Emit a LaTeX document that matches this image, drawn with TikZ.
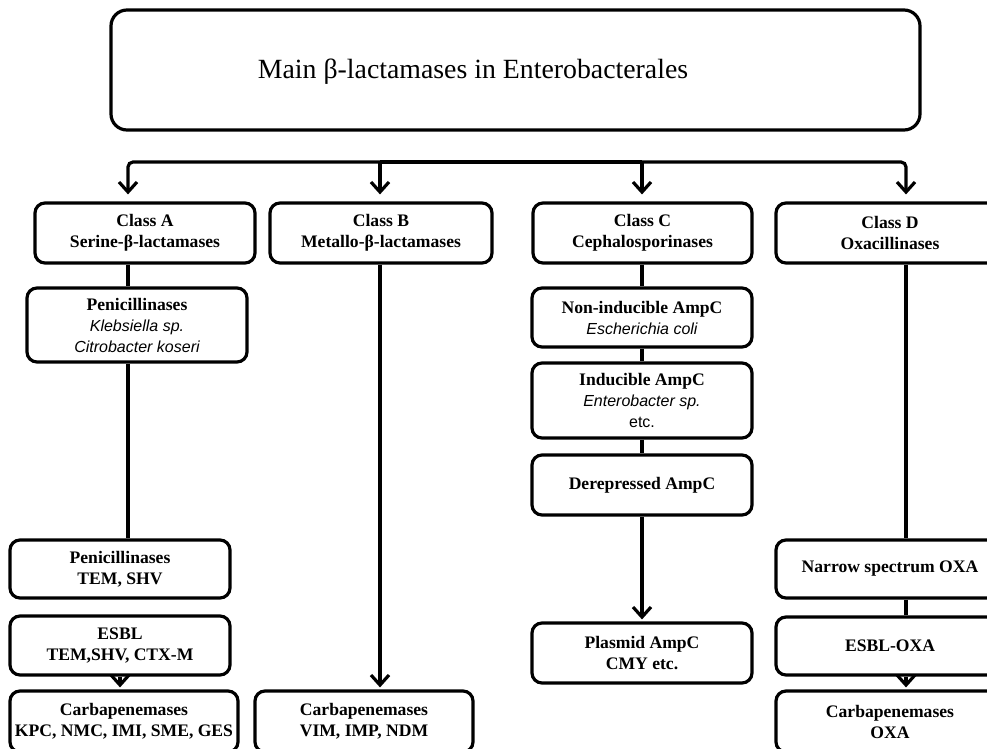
\documentclass[tikz,border=0pt]{standalone}
\usepackage{fontspec}
\setmainfont{Liberation Serif}
\newfontfamily\spfont{Liberation Sans}
\usetikzlibrary{arrows.meta}
\newcommand{\species}[1]{{\spfont\mdseries\itshape\fontsize{16}{21}\selectfont #1}}
\newcommand{\etcnote}{{\spfont\mdseries\fontsize{16}{21}\selectfont etc.}}
\tikzset{
  box/.style={draw, line width=3.2pt, rounded corners=10pt, align=center, inner sep=0pt,
    font=\bfseries\fontsize{17.6}{21}\selectfont},
  line/.style={line width=3.2pt},
  arr/.style={line width=3.2pt, -{Straight Barb[length=10pt,width=18pt]}, shorten >=2pt},
  toparr/.style={arr, shorten >=7pt}
}

\begin{document}
\begin{tikzpicture}[x=1pt, y=-1pt]
\useasboundingbox (0,0) rectangle (987,748);
\clip (0,0) rectangle (987,748);

% title
\node[box, rounded corners=16pt, minimum width=809pt, minimum height=120pt] (title) at (515.5,70) {};
\node[font=\fontsize{27.8}{32}\selectfont] (titletxt) at (473,72) {Main β-lactamases in Enterobacterales};

% columns
\coordinate (bus) at (0,162);
\coordinate (colA) at (128,0);
\coordinate (colAb) at (120,0);
\coordinate (colB) at (380,0);
\coordinate (colC) at (642,0);
\coordinate (colD) at (906,0);

% classes
\node[box, minimum width=220pt, minimum height=60pt] (clsA) at (145,233) {Class A\\Serine-β-lactamases};
\node[box, minimum width=222pt, minimum height=60pt] (clsB) at (381,233) {Class B\\Metallo-β-lactamases};
\node[box, minimum width=219pt, minimum height=60pt] (clsC) at (642.5,233) {Class C\\Cephalosporinases};
\node[box, minimum width=228pt, minimum height=60pt] (clsD) at (890,233) {Class D\\Oxacillinases};

% class A
\node[box, minimum width=220pt, minimum height=74pt] (penA) at (137,325) {Penicillinases\\\species{Klebsiella sp.}\\\species{Citrobacter koseri}};
\node[box, minimum width=220pt, minimum height=58pt] (temA) at (120,569) {Penicillinases\\TEM, SHV};
\node[box, minimum width=220pt, minimum height=59pt] (esblA) at (120,645.5) {ESBL\\TEM,SHV, CTX-M};
\node[box, minimum width=228pt, minimum height=61pt] (carbA) at (124,721.5) {Carbapenemases\\KPC, NMC, IMI, SME, GES};

% class B
\node[box, minimum width=218pt, minimum height=61pt] (carbB) at (364,721.5) {Carbapenemases\\VIM, IMP, NDM};

% class C
\node[box, minimum width=220pt, minimum height=59pt] (nonind) at (642,317.5) {Non-inducible AmpC\\\species{Escherichia coli}};
\node[box, minimum width=220pt, minimum height=75pt] (ind) at (642,400.5) {Inducible AmpC\\\species{Enterobacter sp.}\\\etcnote};
\node[box, minimum width=220pt, minimum height=60pt] (derep) at (642,485) {Derepressed AmpC};
\node[box, minimum width=220pt, minimum height=60pt] (plasmid) at (642,653) {Plasmid AmpC\\CMY etc.};

% class D
\node[box, minimum width=228pt, minimum height=58pt] (narrow) at (890,569) {Narrow spectrum OXA};
\node[box, minimum width=228pt, minimum height=58pt] (esblD) at (890,646) {ESBL-OXA};
\node[box, minimum width=228pt, minimum height=61pt] (carbD) at (890,721.5) {Carbapenemases\\OXA};

% bus to classes
\draw[line] (bus -| colB) -- (bus -| colC);
\draw[toparr, rounded corners=5pt] (bus -| colB) -| (clsA.north -| colA);
\draw[toparr, rounded corners=5pt] (bus -| colC) -| (clsD.north -| colD);
\draw[toparr] (bus -| colB) -- (clsB.north -| colB);
\draw[toparr] (bus -| colC) -- (clsC.north -| colC);

% connectors
\draw[line] (clsA.south -| colA) -- (penA.north -| colA);
\draw[line] (penA.south -| colA) -- (temA.north -| colA);
\draw[arr] (esblA.south -| colAb) -- (carbA.north -| colAb);
\draw[arr] (clsB.south -| colB) -- (carbB.north -| colB);
\draw[line] (clsC.south -| colC) -- (nonind.north -| colC);
\draw[line] (nonind.south -| colC) -- (ind.north -| colC);
\draw[line] (ind.south -| colC) -- (derep.north -| colC);
\draw[arr] (derep.south -| colC) -- (plasmid.north -| colC);
\draw[line] (clsD.south -| colD) -- (narrow.north -| colD);
\draw[line] (narrow.south -| colD) -- (esblD.north -| colD);
\draw[arr] (esblD.south -| colD) -- (carbD.north -| colD);
\end{tikzpicture}
\end{document}
